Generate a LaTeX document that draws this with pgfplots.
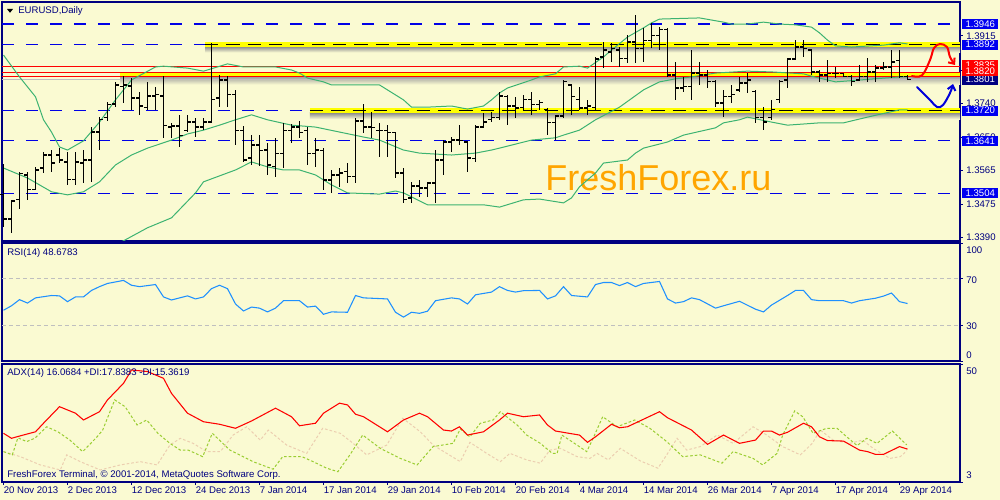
\documentclass[border=0pt]{standalone}
\usepackage{fontspec}
\setmainfont{Liberation Sans}
\usepackage{pgfplots}
\pgfplotsset{compat=1.18}
\usepackage{pgfplotstable}
\usetikzlibrary{arrows.meta}

\definecolor{bgc}{RGB}{250,250,210}
\definecolor{navyc}{RGB}{0,0,128}
\definecolor{lvlblue}{RGB}{0,0,230}
\definecolor{boxblue}{RGB}{0,0,240}
\definecolor{bbgreen}{RGB}{60,179,113}
\definecolor{rsiblue}{RGB}{30,144,255}
\definecolor{dipos}{RGB}{154,205,50}
\definecolor{dineg}{RGB}{236,206,176}
\definecolor{wm}{RGB}{255,165,0}
\definecolor{hl}{RGB}{255,255,0}

\newcommand\lbl{\fontsize{7.2}{8.5}\selectfont}

\pgfdeclareplotmark{otick}{\pgfpathmoveto{\pgfqpoint{-2.4pt}{0pt}}\pgfpathlineto{\pgfqpoint{0pt}{0pt}}\pgfusepathqstroke}
\pgfdeclareplotmark{ctick}{\pgfpathmoveto{\pgfqpoint{0pt}{0pt}}\pgfpathlineto{\pgfqpoint{2.4pt}{0pt}}\pgfusepathqstroke}

\pgfplotsset{mt4/.style={scale only axis, width=718.5pt, xmin=-0.1875, xmax=119.5625,
  anchor=south west, axis line style={navyc, line width=0.8pt},
  xtick=\empty, ytick=\empty, tick align=outside,
  major tick length=2.25pt, tick style={navyc, line width=0.6pt}}}

\pgfplotstableread{
i O H L C
0 1.3500 1.3581 1.3416 1.3437
1 1.3437 1.3487 1.3400 1.3484
2 1.3487 1.3560 1.3463 1.3555
3 1.3552 1.3560 1.3487 1.3515
4 1.3515 1.3573 1.3515 1.3565
5 1.3570 1.3612 1.3557 1.3604
6 1.3604 1.3617 1.3560 1.3583
7 1.3604 1.3622 1.3583 1.3591
8 1.3586 1.3612 1.3526 1.3541
9 1.3541 1.3612 1.3526 1.3586
10 1.3583 1.3617 1.3531 1.3591
11 1.3591 1.3677 1.3534 1.3664
12 1.3664 1.3703 1.3617 1.3696
13 1.3701 1.3742 1.3693 1.3735
14 1.3737 1.3795 1.3729 1.3787
15 1.3782 1.3810 1.3740 1.3787
16 1.3784 1.3805 1.3722 1.3753
17 1.3753 1.3769 1.3709 1.3732
18 1.3729 1.3795 1.3722 1.3758
19 1.3758 1.3782 1.3722 1.3761
20 1.3758 1.3810 1.3649 1.3682
21 1.3677 1.3688 1.3649 1.3680
22 1.3680 1.3709 1.3625 1.3656
23 1.3669 1.3709 1.3664 1.3690
24 1.3690 1.3701 1.3651 1.3677
25 1.3677 1.3701 1.3669 1.3690
26 1.3690 1.3897 1.3688 1.3748
27 1.3753 1.3813 1.3729 1.3800
28 1.3800 1.3810 1.3729 1.3761
29 1.3761 1.3774 1.3630 1.3669
30 1.3669 1.3680 1.3586 1.3591
31 1.3596 1.3656 1.3578 1.3630
32 1.3630 1.3656 1.3575 1.3615
33 1.3617 1.3635 1.3552 1.3578
34 1.3575 1.3649 1.3547 1.3607
35 1.3607 1.3688 1.3570 1.3669
36 1.3669 1.3685 1.3635 1.3677
37 1.3677 1.3693 1.3649 1.3662
38 1.3669 1.3677 1.3578 1.3609
39 1.3609 1.3649 1.3573 1.3617
40 1.3615 1.3622 1.3513 1.3539
41 1.3539 1.3565 1.3505 1.3552
42 1.3552 1.3570 1.3521 1.3557
43 1.3560 1.3583 1.3531 1.3547
44 1.3547 1.3701 1.3531 1.3693
45 1.3693 1.3737 1.3662 1.3677
46 1.3677 1.3716 1.3649 1.3675
47 1.3669 1.3688 1.3599 1.3669
48 1.3669 1.3682 1.3599 1.3662
49 1.3662 1.3662 1.3544 1.3557
50 1.3557 1.3570 1.3479 1.3487
51 1.3492 1.3534 1.3479 1.3523
52 1.3523 1.3539 1.3494 1.3518
53 1.3518 1.3534 1.3494 1.3531
54 1.3531 1.3617 1.3479 1.3591
55 1.3591 1.3643 1.3552 1.3638
56 1.3638 1.3651 1.3612 1.3643
57 1.3643 1.3682 1.3630 1.3641
58 1.3638 1.3640 1.3560 1.3596
59 1.3594 1.3682 1.3586 1.3677
60 1.3677 1.3714 1.3675 1.3690
61 1.3696 1.3716 1.3690 1.3703
62 1.3703 1.3769 1.3696 1.3758
63 1.3756 1.3761 1.3682 1.3732
64 1.3732 1.3756 1.3701 1.3727
65 1.3729 1.3761 1.3722 1.3748
66 1.3748 1.3769 1.3709 1.3735
67 1.3735 1.3748 1.3722 1.3742
68 1.3722 1.3727 1.3656 1.3688
69 1.3688 1.3709 1.3643 1.3706
70 1.3706 1.3800 1.3701 1.3795
71 1.3787 1.3790 1.3709 1.3756
72 1.3748 1.3782 1.3722 1.3727
73 1.3727 1.3748 1.3709 1.3732
74 1.3729 1.3860 1.3722 1.3855
75 1.3860 1.3899 1.3831 1.3878
76 1.3873 1.3897 1.3847 1.3883
77 1.3878 1.3886 1.3834 1.3857
78 1.3857 1.3917 1.3844 1.3899
79 1.3899 1.3970 1.3844 1.3883
80 1.3883 1.3936 1.3847 1.3904
81 1.3904 1.3949 1.3883 1.3917
82 1.3917 1.3938 1.3878 1.3931
83 1.3931 1.3936 1.3808 1.3813
84 1.3813 1.3847 1.3748 1.3779
85 1.3779 1.3808 1.3769 1.3782
86 1.3782 1.3878 1.3748 1.3818
87 1.3818 1.3847 1.3787 1.3813
88 1.3813 1.3826 1.3779 1.3795
89 1.3795 1.3800 1.3729 1.3740
90 1.3740 1.3774 1.3703 1.3756
91 1.3756 1.3787 1.3740 1.3761
92 1.3774 1.3808 1.3769 1.3792
93 1.3792 1.3818 1.3766 1.3800
94 1.3769 1.3774 1.3688 1.3701
95 1.3703 1.3729 1.3669 1.3690
96 1.3701 1.3748 1.3696 1.3722
97 1.3748 1.3800 1.3740 1.3797
98 1.3800 1.3857 1.3779 1.3855
99 1.3855 1.3904 1.3852 1.3886
100 1.3886 1.3904 1.3860 1.3883
101 1.3878 1.3878 1.3813 1.3821
102 1.3821 1.3826 1.3795 1.3813
103 1.3813 1.3852 1.3795 1.3816
104 1.3816 1.3834 1.3805 1.3816
105 1.3816 1.3818 1.3808 1.3810
106 1.3810 1.3813 1.3784 1.3795
107 1.3800 1.3839 1.3800 1.3808
108 1.3808 1.3857 1.3795 1.3821
109 1.3821 1.3839 1.3795 1.3831
110 1.3831 1.3847 1.3826 1.3834
111 1.3834 1.3878 1.3805 1.3847
112 1.3850 1.3878 1.3805 1.3810
113 1.3810 1.3813 1.3800 1.3801
}\ohlc

\begin{document}
\begin{tikzpicture}
\useasboundingbox (0,0) rectangle (750pt,375pt);
\fill[bgc] (0,0) rectangle (750pt,375pt);
% watermark
\node[anchor=base west, inner sep=0pt, text=wm, font=\fontsize{27}{30}\selectfont] at (408.75pt,231.75pt) {FreshForex.ru};

%================ MAIN PRICE PANEL
\begin{axis}[mt4, at={(1.5pt,194.25pt)}, height=179.25pt,
  ymin=1.33795, ymax=1.40036]
% blue dashed levels
\addplot[lvlblue, line width=0.9pt, dash pattern=on 9pt off 9pt] coordinates {(-0.2,1.3946)(119.6,1.3946)};
\addplot[lvlblue, line width=0.9pt, dash pattern=on 9pt off 9pt] coordinates {(-0.2,1.3892)(119.6,1.3892)};
\addplot[lvlblue, line width=0.9pt, dash pattern=on 9pt off 9pt] coordinates {(-0.2,1.3720)(119.6,1.3720)};
\addplot[lvlblue, line width=0.9pt, dash pattern=on 9pt off 9pt] coordinates {(-0.2,1.3641)(119.6,1.3641)};
\addplot[lvlblue, line width=0.9pt, dash pattern=on 9pt off 9pt] coordinates {(-0.2,1.3504)(119.6,1.3504)};
% shadows of highlighted levels
\shade[top color=black!45, bottom color=bgc] (axis cs:25.2,1.3887) rectangle (axis cs:119.6,1.3872);
\shade[top color=black!45, bottom color=bgc] (axis cs:38.3,1.3714) rectangle (axis cs:119.6,1.3698);
\shade[top color=black!40, bottom color=bgc] (axis cs:14.6,1.3810) rectangle (axis cs:119.6,1.3788);
% yellow highlight bands
\addplot[hl, line width=3.6pt] coordinates {(25.2,1.3892)(119.6,1.3892)};
\addplot[hl, line width=3.6pt] coordinates {(38.3,1.3720)(119.6,1.3720)};
\addplot[hl, line width=3pt] coordinates {(14.6,1.3815)(119.6,1.3815)};
\addplot[black, line width=0.9pt, dash pattern=on 10pt off 6pt] coordinates {(25.2,1.3892)(119.6,1.3892)};
\addplot[black, line width=0.9pt, dash pattern=on 10pt off 6pt] coordinates {(38.3,1.3720)(119.6,1.3720)};
% red levels and bid line
\addplot[red, line width=0.75pt] coordinates {(-0.2,1.3835)(119.6,1.3835)};
\addplot[red, line width=0.75pt] coordinates {(-0.2,1.3820)(119.6,1.3820)};
\addplot[red, line width=0.75pt] coordinates {(-0.2,1.3810)(119.6,1.3810)};
\addplot[black!25, line width=0.75pt] coordinates {(-0.2,1.3801)(119.6,1.3801)};
% Bollinger bands
\addplot[bbgreen, line width=0.75pt] coordinates {(0,1.3865)(2,1.3808)(4,1.3756)(5,1.3696)(6,1.3664)(7,1.3625)(8,1.3617)(10,1.3641)(12,1.3690)(14,1.3748)(16,1.3800)(19,1.3834)(20,1.3836)(23,1.3831)(25,1.3823)(28,1.3842)(30,1.3834)(32,1.3834)(34,1.3834)(36,1.3826)(37,1.3818)(38,1.3805)(40,1.3795)(41,1.3787)(47,1.3787)(48,1.3774)(50,1.3748)(51,1.3729)(53,1.3729)(56,1.3732)(58,1.3724)(60,1.3732)(61,1.3748)(62,1.3766)(63,1.3779)(66,1.3800)(67,1.3808)(69,1.3816)(70,1.3834)(72,1.3836)(73,1.3831)(75,1.3860)(76,1.3878)(78,1.3912)(80,1.3936)(81,1.3949)(82,1.3959)(87,1.3962)(90,1.3951)(91,1.3946)(93,1.3946)(95,1.3951)(97,1.3946)(99,1.3944)(101,1.3938)(102,1.3923)(103,1.3904)(104,1.3889)(106,1.3886)(110,1.3891)(112,1.3897)(113,1.3894)};
\addplot[bbgreen, line width=0.75pt] coordinates {(0,1.3570)(3,1.3544)(6,1.3508)(8,1.3500)(10,1.3508)(12,1.3534)(14,1.3578)(16,1.3604)(18,1.3622)(21,1.3643)(23,1.3659)(25,1.3669)(27,1.3682)(29,1.3696)(31,1.3709)(33,1.3696)(36,1.3682)(39,1.3677)(42,1.3664)(45,1.3651)(47,1.3643)(50,1.3617)(52,1.3609)(56,1.3604)(59,1.3609)(61,1.3617)(62,1.3622)(66,1.3643)(69,1.3649)(70,1.3656)(72,1.3669)(74,1.3696)(77,1.3729)(80,1.3774)(82,1.3795)(84,1.3803)(86,1.3808)(89,1.3818)(93,1.3823)(96,1.3821)(100,1.3816)(101,1.3810)(104,1.3795)(112,1.3808)(113,1.3808)};
\addplot[bbgreen, line width=0.75pt] coordinates {(0,1.3280)(10,1.3340)(15,1.3380)(18,1.3414)(21,1.3440)(24,1.3505)(25,1.3534)(29,1.3565)(31,1.3586)(33,1.3573)(35,1.3565)(37,1.3565)(39,1.3552)(41,1.3526)(43,1.3505)(47,1.3502)(49,1.3510)(50,1.3505)(53,1.3474)(60,1.3474)(62,1.3468)(65,1.3487)(67,1.3489)(70,1.3479)(71,1.3492)(72,1.3521)(74,1.3557)(75,1.3583)(78,1.3591)(79,1.3609)(80,1.3622)(83,1.3638)(85,1.3656)(89,1.3675)(90,1.3688)(92,1.3696)(93,1.3703)(96,1.3690)(98,1.3682)(102,1.3688)(105,1.3688)(108,1.3703)(112,1.3722)(113,1.3722)};
% OHLC bars: high-low line with open tick, then close tick
\addplot[black, only marks, mark=otick, mark options={line width=0.9pt},
  error bars/.cd, y dir=both, y explicit, error mark=none,
  error bar style={black, line width=0.9pt}]
  table[x=i, y=O, y error plus expr=\thisrow{H}-\thisrow{O}, y error minus expr=\thisrow{O}-\thisrow{L}] {\ohlc};
\addplot[black, only marks, mark=ctick, mark options={line width=0.9pt}] table[x=i, y=C] {\ohlc};
\end{axis}

%================ RSI PANEL
\begin{axis}[mt4, at={(1.5pt,104.25pt)}, height=88.5pt, ymin=0, ymax=100]
\addplot[black!25, line width=0.75pt, dash pattern=on 3pt off 2.25pt] coordinates {(-0.2,70)(119.6,70)};
\addplot[black!25, line width=0.75pt, dash pattern=on 3pt off 2.25pt] coordinates {(-0.2,30)(119.6,30)};
\addplot[rsiblue, line width=0.8pt] coordinates {(0,43.0)(1,46.8)(2,52.0)(3,49.1)(4,53.5)(6,55.5)(7,55.2)(8,50.3)(9,54.3)(10,54.3)(11,59.8)(12,63.0)(13,65.7)(15,68.3)(16,64.2)(17,63.0)(19,64.8)(20,54.3)(21,51.7)(23,55.2)(24,52.6)(25,54.3)(26,61.3)(27,64.2)(28,61.3)(29,48.3)(30,42.4)(31,45.7)(32,44.8)(33,41.6)(34,44.8)(35,51.1)(37,51.1)(38,45.7)(39,46.5)(40,39.6)(41,41.6)(43,41.3)(44,55.5)(45,53.5)(48,52.6)(49,41.3)(50,37.2)(51,41.3)(52,40.4)(53,42.2)(54,51.1)(56,53.5)(57,52.6)(58,48.3)(59,56.1)(61,58.4)(62,63.0)(63,59.8)(64,58.4)(65,59.6)(67,59.8)(68,52.6)(69,55.2)(70,63.0)(71,55.5)(73,54.3)(74,64.8)(75,66.5)(76,66.5)(77,63.9)(78,66.5)(79,63.0)(80,65.7)(82,67.4)(83,52.6)(84,49.1)(85,50.3)(86,53.5)(87,52.0)(89,44.8)(90,46.8)(92,50.6)(94,43.9)(95,41.6)(96,47.4)(98,55.5)(99,59.8)(100,59.8)(101,52.0)(102,51.1)(105,51.1)(106,49.1)(107,51.1)(109,53.2)(110,55.0)(111,57.6)(112,50.3)(113,48.7)};
\end{axis}

%================ ADX PANEL
\begin{axis}[mt4, at={(1.5pt,13.5pt)}, height=88.5pt, ymin=3, ymax=50,
  xtick={0,8,...,112}, xtick pos=bottom,
  xticklabels={20 Nov 2013,2 Dec 2013,12 Dec 2013,24 Dec 2013,7 Jan 2014,17 Jan 2014,29 Jan 2014,10 Feb 2014,20 Feb 2014,4 Mar 2014,14 Mar 2014,26 Mar 2014,7 Apr 2014,17 Apr 2014,29 Apr 2014},
  xticklabel style={anchor=north west, font=\lbl, text=navyc, inner sep=0pt, yshift=-1.2pt}]
\addplot[dineg, line width=0.75pt, dash pattern=on 2pt off 1.5pt] coordinates {(0,15.1)(2.1,13.1)(4.6,9.8)(7.1,7.8)(7.9,13.8)(9.6,11.1)(12.1,7.8)(14.6,9.8)(17.1,11.1)(19.2,9.8)(20.8,17.7)(22.1,20.4)(23.7,18.4)(25.4,15.1)(27.1,15.1)(28.7,21.7)(30.4,25.0)(32.1,19.7)(33.1,23.7)(35.4,17.7)(37.9,14.4)(39.9,24.4)(42.1,22.4)(43.7,18.4)(45.4,13.8)(47.9,17.7)(49.9,28.4)(52.1,23.0)(53.7,17.7)(57.1,11.1)(58.3,18.8)(60.4,14.4)(62.1,11.1)(63.3,14.4)(65.4,11.8)(67.1,10.5)(68.3,15.7)(69.6,16.4)(71.7,13.1)(73.3,12.4)(74.2,14.4)(75.6,11.8)(77.1,16.4)(79.6,11.4)(81.8,8.5)(82.9,13.8)(84.2,20.4)(85.4,15.7)(87.1,17.1)(89.2,21.7)(91.2,18.4)(93.7,25.0)(95.4,21.7)(97.4,17.1)(99.6,13.8)(101.1,18.4)(102.1,23.7)(103.7,19.7)(105.8,18.4)(107.4,19.7)(108.7,16.4)(110.8,12.4)(112.1,13.1)(112.9,15.4)};
\addplot[dipos, line width=0.75pt, dash pattern=on 2pt off 1.5pt] coordinates {(0,15.1)(1.1,13.8)(1.8,20.6)(2.9,19.1)(3.9,20.4)(5.4,25.0)(6.8,23.0)(8.3,19.7)(9.9,15.1)(11.7,21.0)(12.4,23.7)(13.9,35.7)(15.2,33.0)(16.7,25.7)(17.9,27.7)(19.3,22.4)(20.8,18.4)(22.1,15.7)(23.1,15.7)(24.9,13.1)(26.1,22.4)(28.3,15.7)(31.2,11.1)(33.7,8.1)(34.9,13.1)(37.3,13.1)(38.7,11.1)(40.4,8.5)(41.8,7.1)(43.3,13.8)(44.9,21.7)(47.1,16.4)(49.6,12.4)(51.7,9.8)(53.7,17.1)(56.2,18.4)(57.1,24.1)(58.3,21.0)(59.6,26.4)(61.2,27.7)(62.1,31.0)(64.2,25.7)(65.4,21.7)(67.1,18.4)(68.6,14.4)(69.2,14.4)(69.8,21.7)(71.7,17.7)(72.9,15.1)(73.7,20.4)(74.9,29.0)(76.7,25.0)(78.9,27.7)(80.8,24.4)(82.9,19.1)(84.9,13.1)(87.1,13.8)(89.8,10.5)(91.2,15.1)(93.7,12.4)(94.9,9.8)(96.7,14.4)(97.4,21.7)(98.9,31.3)(99.9,29.0)(101.2,22.4)(102.9,24.4)(104.2,24.4)(105.4,21.0)(106.7,17.5)(107.9,20.4)(109.2,18.4)(111.1,23.3)(112.9,17.8)};
\addplot[red, line width=0.8pt] coordinates {(0,22.4)(1,20.4)(2,21.3)(4,23.0)(5,26.4)(7,33.0)(9,30.4)(10,27.7)(12,31.0)(13,35.7)(15,42.3)(16,47.6)(18,47.0)(20,44.3)(21,38.3)(23,30.4)(25,27.0)(27,26.0)(29,24.4)(31,27.3)(34,32.4)(36,29.0)(37,25.4)(39,26.4)(40,30.4)(42,34.4)(43,33.7)(44,30.0)(45,29.0)(48,23.0)(50,27.7)(52,30.4)(53,29.0)(55,23.7)(56,23.3)(57,25.0)(58,21.7)(60,23.0)(62,27.7)(63,30.4)(65,29.0)(67,29.7)(68,25.7)(69,23.3)(72,21.7)(73,18.8)(74,21.0)(76,26.0)(77,24.6)(78,25.0)(82,31.0)(83,28.6)(86,23.7)(88,18.0)(90,21.7)(92,18.4)(94,19.7)(95,23.3)(96,23.3)(97,21.7)(98,22.8)(100,26.4)(101,25.0)(102,21.0)(103,19.5)(105,19.3)(107,15.7)(108,15.1)(109,14.0)(110,14.0)(112,17.1)(113,16.1)};
\end{axis}

%================ texts and annotations
\fill[black] (5.25pt,368.25pt) -- (9.75pt,368.25pt) -- (7.5pt,365.4pt) -- cycle;
\node[anchor=west, inner sep=0pt, text=navyc, font=\lbl] at (13.5pt,366.75pt) {EURUSD,Daily};
\node[anchor=west, inner sep=0pt, text=navyc, font=\lbl] at (5.25pt,185.6pt) {RSI(14) 48.6783};
\node[anchor=west, inner sep=0pt, text=navyc, font=\lbl] at (5.25pt,95.25pt) {ADX(14) 16.0684 +DI:17.8383 -DI:15.3619};
\node[anchor=west, inner sep=0pt, text=navyc, font=\lbl] at (5.25pt,19.1pt) {FreshForex Terminal, © 2001-2014, MetaQuotes Software Corp.};

% right scale ticks
\foreach \yy in {197.25pt,221.7pt,247.5pt,271.95pt,297.8pt,322.2pt,348.1pt,104.25pt,130.8pt,166.2pt,192.75pt,13.5pt,102pt}
  \draw[navyc, line width=0.6pt] (720pt,\yy) -- (722.4pt,\yy);
% right scale labels
\foreach \yy/\tt in {348.1pt/1.3915, 297.8pt/1.3740, 272.0pt/1.3650, 247.5pt/1.3565, 221.7pt/1.3475, 197.25pt/1.3390, 187.5pt/100, 165pt/70, 130.5pt/30, 108.75pt/0, 96.75pt/50, 18.75pt/3}
  \node[anchor=west, inner sep=0pt, text=navyc, font=\lbl] at (724.5pt,\yy) {\tt};
\foreach \yy/\tt/\cc in {357pt/1.3946/boxblue, 341.5pt/1.3892/boxblue, 326.25pt/1.3835/red, 315.3pt/1.3801/navyc, 321.75pt/1.3820/red, 292.05pt/1.3720/boxblue, 269.3pt/1.3641/boxblue, 230.0pt/1.3504/boxblue}
  \node[anchor=west, fill=\cc, text=white, font=\lbl, minimum width=27pt, minimum height=7.5pt, inner sep=0pt] at (721.5pt,\yy) {\tt};

% hand-drawn arrows
\draw[red, line width=1.5pt, line cap=round, -{Straight Barb[length=3.5pt,width=6pt]}] plot[smooth, tension=0.6] coordinates {(684pt,318pt) (691.5pt,318.5pt) (697.5pt,330pt) (700.5pt,339pt) (705pt,342pt) (710.25pt,339.75pt) (712.5pt,332.25pt) (716.25pt,326.25pt)};
\draw[blue!85!black, line width=1.5pt, line cap=round, -{Straight Barb[length=3.5pt,width=6pt]}] plot[smooth, tension=0.6] coordinates {(687.75pt,309.75pt) (697.5pt,300pt) (702.75pt,294.75pt) (707.25pt,296.25pt) (712.5pt,305.25pt) (714.75pt,312pt)};
\end{tikzpicture}
\end{document}
